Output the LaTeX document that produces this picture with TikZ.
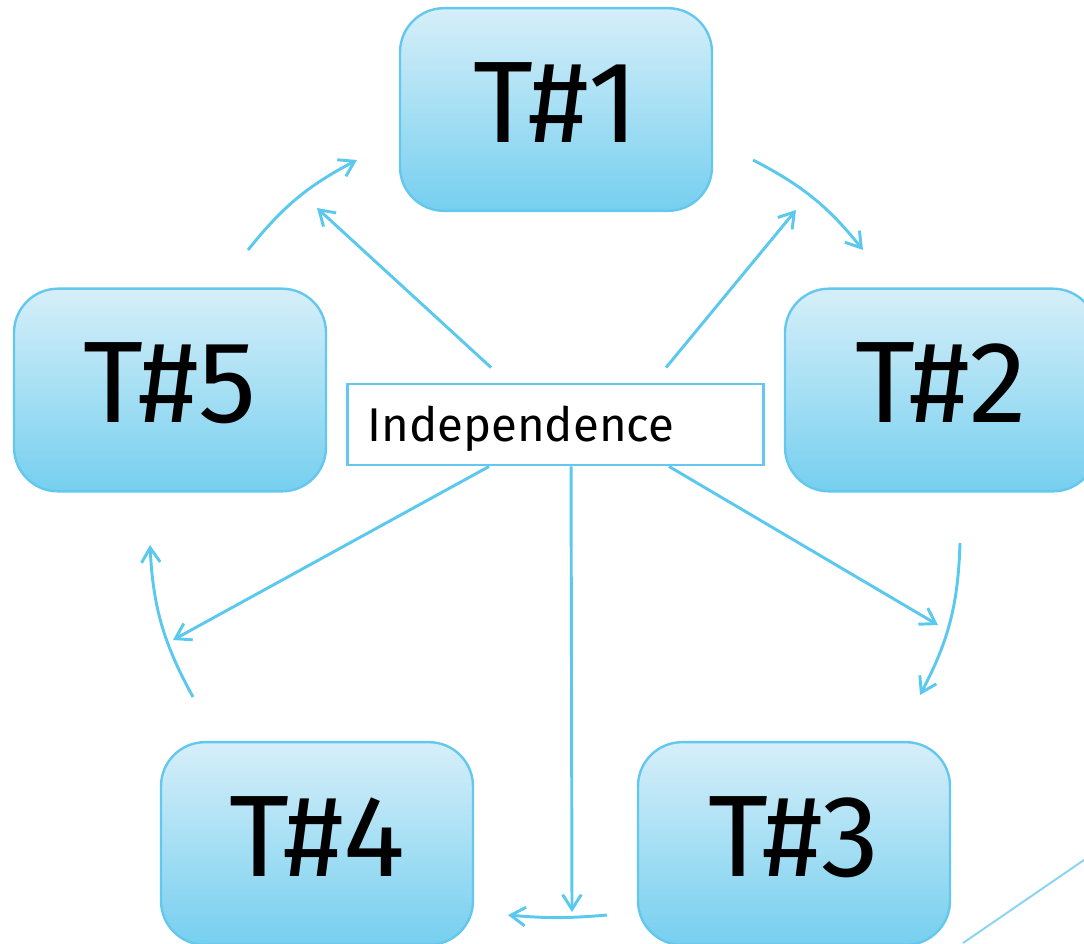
\documentclass[tikz,border=0pt]{standalone}
\usepackage{fontspec}
\setmainfont{Fira Sans}
\usetikzlibrary{arrows.meta,calc}
\definecolor{edgec}{RGB}{100,200,238}
\definecolor{arrc}{RGB}{91,200,238}
\definecolor{topc}{RGB}{214,239,249}
\definecolor{botc}{RGB}{118,207,239}
\definecolor{diagc}{RGB}{140,212,242}
\tikzset{
  tbox/.style={draw=edgec, line width=1.8pt, rounded corners=33pt,
    top color=topc, bottom color=botc, minimum width=234pt, minimum height=152pt,
    inner sep=0pt, text height=49pt, text depth=0pt, font=\fontsize{87}{90}\selectfont},
  indbox/.style={draw=edgec, line width=2.2pt, fill=white, text width=282pt, inner xsep=15pt,
    minimum height=60.75pt, align=left, text height=25pt, text depth=0pt,
    font=\fontsize{35.5}{38}\selectfont},
  conn/.style={draw=arrc, line width=2.2pt, -{Straight Barb[length=11pt,width=14pt,line width=2.2pt]}},
}
\begin{document}
\begin{tikzpicture}[x=0.75pt,y=0.75pt]
\useasboundingbox (0,0) rectangle (1084,-943);
\clip (0,0) rectangle (1084,-943);
\node[tbox] (t1) at (556,-109.5) {T\#1};
\node[tbox] (t2) at (941,-390) {T\#2};
\node[tbox] (t3) at (794,-843.5) {T\#3};
\node[tbox] (t4) at (317,-843.5) {T\#4};
\node[tbox] (t5) at (170,-390) {T\#5};
\node[indbox] (ind) at (555.5,-424.5) {Independence};
% cycle arcs
\coordinate (a1s) at (248,-250); \coordinate (a1e) at (357,-160);
\coordinate (a2s) at (753,-160); \coordinate (a2e) at (863,-250);
\coordinate (a3s) at (960,-543); \coordinate (a3e) at (920,-695);
\coordinate (a4s) at (607,-915); \coordinate (a4e) at (508,-915);
\coordinate (a5s) at (193,-697); \coordinate (a5e) at (150,-545);
\draw[conn] (a1s) to[bend left=12] (a1e);
\draw[conn] (a2s) to[bend left=12] (a2e);
\draw[conn] (a3s) to[bend left=13] (a3e);
\draw[conn] (a4s) to[bend left=5] (a4e);
\draw[conn] (a5s) to[bend left=13] (a5e);
% spokes from Independence
\coordinate (s1) at (317,-208);
\coordinate (s2) at (796,-210);
\coordinate (s3) at (173,-640);
\coordinate (s4) at (572,-912);
\coordinate (s5) at (938,-625);
\draw[conn] ([xshift=145pt*0.75,yshift=15pt*0.75]ind.north west) -- (s1);
\draw[conn] ([xshift=320pt*0.75,yshift=15pt*0.75]ind.north west) -- (s2);
\draw[conn] ([xshift=143pt*0.75]ind.south west) -- (s3);
\draw[conn] ([xshift=225pt*0.75]ind.south west) -- (s4);
\draw[conn] ([xshift=323pt*0.75]ind.south west) -- (s5);
% diagonal line bottom right
\coordinate (d1) at (963,-943);
\coordinate (d2) at (1100,-849);
\draw[diagc, line width=1.5pt] (d1) -- (d2);
\end{tikzpicture}
\end{document}
